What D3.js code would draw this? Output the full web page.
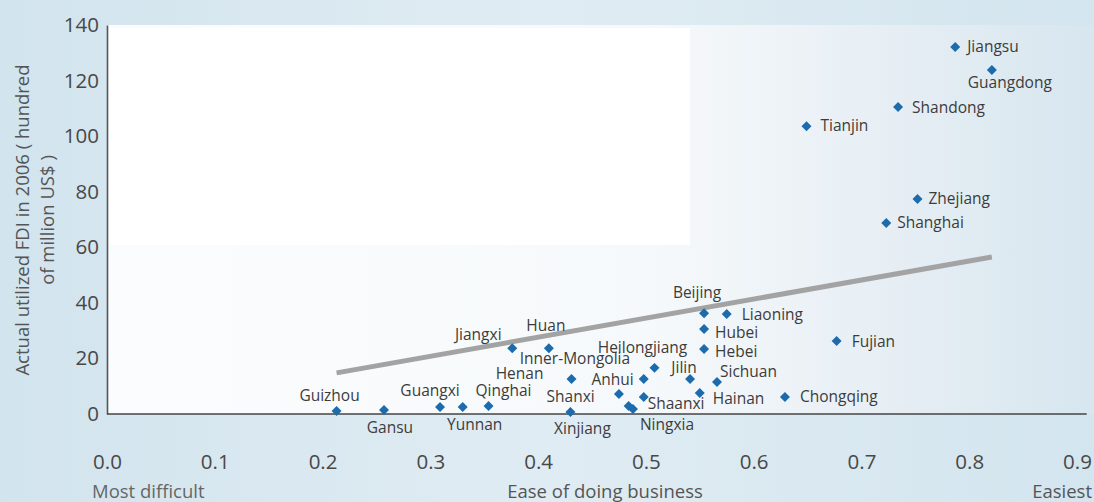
<!DOCTYPE html>
<html>
<head>
<meta charset="utf-8">
<script src="https://cdn.jsdelivr.net/npm/d3@7"></script>
<style>
  body { margin: 0; background: #d4e5ef; }
  svg { display: block; }
</style>
</head>
<body>
<script>
// provinces with ease-of-doing-business score and 2006 FDI (hundred million US$)
var provinces = ["Jiangsu", "Guangdong", "Shandong", "Tianjin", "Zhejiang", "Shanghai",
  "Beijing", "Liaoning", "Hubei", "Hebei", "Fujian", "Jiangxi", "Huan", "Henan",
  "Xinjiang", "Inner-Mongolia", "Shanxi", "Ningxia", "Anhui", "Shaanxi", "Heilongjiang",
  "Jilin", "Hainan", "Sichuan", "Chongqing", "Guizhou", "Gansu", "Guangxi", "Yunnan", "Qinghai"];
var easeScores = [0.787, 0.821, 0.734, 0.649, 0.752, 0.723,
  0.554, 0.575, 0.554, 0.554, 0.677, 0.376, 0.410, 0.431,
  0.430, 0.475, 0.484, 0.488, 0.498, 0.498, 0.508,
  0.541, 0.550, 0.566, 0.629, 0.213, 0.257, 0.309, 0.330, 0.354];
var fdiValues = [132.1, 123.8, 110.5, 103.6, 77.4, 68.7,
  36.3, 36.0, 30.6, 23.4, 26.3, 23.7, 23.7, 12.6,
  0.7, 7.2, 2.9, 1.8, 12.6, 6.1, 16.6,
  12.6, 7.6, 11.5, 6.1, 1.1, 1.4, 2.5, 2.5, 2.9];
var trendLine = [[0.213, 14.8], [0.821, 56.5]];
var xTicks = [0, 0.1, 0.2, 0.3, 0.4, 0.5, 0.6, 0.7, 0.8, 0.9];
var yTicks = [0, 20, 40, 60, 80, 100, 120, 140];

// label offsets from the marker: [dx, dy, anchor]
var labelPlace = {
  "Jiangsu": [12, 5, "start"], "Guangdong": [18, 18, "middle"], "Shandong": [14, 6, "start"],
  "Tianjin": [14, 5, "start"], "Zhejiang": [11, 5, "start"], "Shanghai": [11, 5, "start"],
  "Beijing": [-7, -15, "middle"], "Liaoning": [15, 6, "start"], "Hubei": [11, 9, "start"],
  "Hebei": [11, 8, "start"], "Fujian": [15, 6, "start"], "Jiangxi": [-34, -8, "middle"],
  "Huan": [-3, -17, "middle"], "Henan": [-52, 0, "middle"], "Xinjiang": [12, 22, "middle"],
  "Inner-Mongolia": [-44, -30, "middle"], "Shanxi": [-58, -4, "middle"], "Ningxia": [34, 21, "middle"],
  "Anhui": [-10, 6, "end"], "Shaanxi": [4, 12, "start"], "Heilongjiang": [-12, -15, "middle"],
  "Jilin": [-6, -6, "middle"], "Hainan": [13, 11, "start"], "Sichuan": [3, -5, "start"],
  "Chongqing": [15, 5, "start"], "Guizhou": [-7, -10, "middle"], "Gansu": [6, 23, "middle"],
  "Guangxi": [-10, -11, "middle"], "Yunnan": [12, 23, "middle"], "Qinghai": [15, -10, "middle"]
};

var width = 1094;
var height = 502;
var marginLeft = 107;
var marginTop = 25;
var plotBottom = 414;

var svg = d3.select("body")
  .append("svg")
  .attr("width", width)
  .attr("height", height)
  .style("font-family", "'Open Sans', sans-serif");

var defs = svg.append("defs");
var bgGrad = defs.append("linearGradient").attr("id", "bg").attr("x1", 0).attr("x2", 1).attr("y1", 0).attr("y2", 0);
bgGrad.append("stop").attr("offset", "0%").attr("stop-color", "#d2e4ee");
bgGrad.append("stop").attr("offset", "50%").attr("stop-color", "#e0ecf3");
bgGrad.append("stop").attr("offset", "100%").attr("stop-color", "#d3e5ef");

var plotGrad = defs.append("linearGradient").attr("id", "plotbg").attr("x1", 0).attr("x2", 1).attr("y1", 0).attr("y2", 0);
plotGrad.append("stop").attr("offset", "0%").attr("stop-color", "#fbfcfd");
plotGrad.append("stop").attr("offset", "55%").attr("stop-color", "#f6f9fb");
plotGrad.append("stop").attr("offset", "80%").attr("stop-color", "#e6eef4");
plotGrad.append("stop").attr("offset", "100%").attr("stop-color", "#d7e6ef");

svg.append("rect").attr("width", width).attr("height", height).attr("fill", "url(#bg)");
svg.append("rect")
  .attr("x", marginLeft).attr("y", marginTop)
  .attr("width", width - marginLeft).attr("height", plotBottom - marginTop)
  .attr("fill", "url(#plotbg)");
svg.append("rect")
  .attr("x", marginLeft).attr("y", 28)
  .attr("width", 583).attr("height", 217)
  .attr("fill", "#ffffff");

var x = d3.scaleLinear().domain([0, 0.9]).range([marginLeft, 1077]);
var y = d3.scaleLinear().domain([0, 140]).range([plotBottom, marginTop]);

// y axis
var yAxis = svg.append("g")
  .attr("transform", "translate(" + marginLeft + ",0)")
  .call(d3.axisLeft(y).tickValues(yTicks).tickSize(0).tickSizeOuter(0).tickPadding(8));
yAxis.select(".domain").attr("stroke", "#555").attr("stroke-width", 1.6);
yAxis.selectAll("text").attr("font-size", 20.5).attr("fill", "#484848").attr("font-family", "'Open Sans', sans-serif");

// x axis
var xAxis = svg.append("g")
  .attr("transform", "translate(0," + plotBottom + ")")
  .call(d3.axisBottom(x).tickValues(xTicks).tickFormat(d3.format(".1f")).tickSize(0).tickPadding(40));
xAxis.select(".domain").remove();
xAxis.selectAll("text").attr("font-size", 20.5).attr("fill", "#484848").attr("font-family", "'Open Sans', sans-serif");
svg.append("line")
  .attr("x1", x(0)).attr("x2", x(0.909))
  .attr("y1", plotBottom).attr("y2", plotBottom)
  .attr("stroke", "#444").attr("stroke-width", 1.6);

// trend line
svg.append("path")
  .datum(trendLine)
  .attr("d", d3.line().x(function (d) { return x(d[0]); }).y(function (d) { return y(d[1]); }))
  .attr("stroke", "#a3a3a3")
  .attr("stroke-width", 5)
  .attr("fill", "none");

var data = provinces.map(function (p, i) {
  return { name: p, ease: easeScores[i], fdi: fdiValues[i] };
});

// markers
svg.selectAll(".pt")
  .data(data)
  .join("path")
  .attr("class", "pt")
  .attr("d", d3.symbol().type(d3.symbolSquare).size(50))
  .attr("transform", function (d) {
    return "translate(" + x(d.ease) + "," + y(d.fdi) + ") rotate(45)";
  })
  .attr("fill", "#1c6cad");

// labels
svg.selectAll(".lbl")
  .data(data)
  .join("text")
  .attr("class", "lbl")
  .attr("x", function (d) { return x(d.ease) + labelPlace[d.name][0]; })
  .attr("y", function (d) { return y(d.fdi) + labelPlace[d.name][1]; })
  .attr("text-anchor", function (d) { return labelPlace[d.name][2]; })
  .attr("font-size", 15.5)
  .attr("fill", "#3c3c3c")
  .text(function (d) { return d.name; });

// axis titles
var yTitle = svg.append("text")
  .attr("transform", "translate(0,220) rotate(-90)")
  .attr("text-anchor", "middle")
  .attr("font-size", 18.5)
  .attr("fill", "#555");
yTitle.append("tspan").attr("x", 0).attr("dy", 28.5).text("Actual utilized FDI in 2006 ( hundred");
yTitle.append("tspan").attr("x", 0).attr("dy", 25).text("of million US$ )");

svg.append("text")
  .attr("x", 92).attr("y", 498)
  .attr("font-size", 18.5).attr("fill", "#666")
  .text("Most difficult");
svg.append("text")
  .attr("x", 605).attr("y", 498)
  .attr("text-anchor", "middle")
  .attr("font-size", 18.5).attr("fill", "#555")
  .text("Ease of doing business");
svg.append("text")
  .attr("x", 1092).attr("y", 498)
  .attr("text-anchor", "end")
  .attr("font-size", 18.5).attr("fill", "#555")
  .text("Easiest");
</script>
</body>
</html>
